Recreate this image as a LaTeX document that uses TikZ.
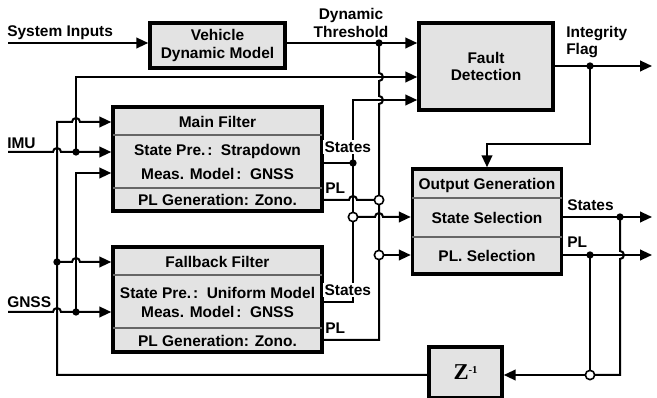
\documentclass[tikz,border=0pt]{standalone}
\usepackage{fontspec}
\setmainfont{Liberation Sans}
\newfontfamily\zfont{Liberation Serif}
\usetikzlibrary{arrows.meta}
\definecolor{boxgray}{gray}{0.89}
\newcommand{\fcolon}{\hspace{0.12em}:\hspace{0.55em}}
\newcommand{\hop}{arc[start angle=180,end angle=0,radius=3pt]}
\newcommand{\vhop}{arc[start angle=90,end angle=-90,radius=3pt]}
\tikzset{
  blockbox/.style={draw,line width=2.6pt,fill=boxgray,inner sep=0pt,align=center},
  sig/.style={line width=1.5pt},
  junc/.style={circle,fill,inner sep=0pt,minimum size=5.5pt},
  hole/.style={circle,draw,line width=1.2pt,fill=white,inner sep=0pt,minimum size=7pt},
  lbl/.style={inner sep=0pt,align=center},
  cutlbl/.style={lbl,fill=white,inner sep=1pt},
  divider/.style={line width=1pt,black!60}
}
\begin{document}
\begin{tikzpicture}[x=0.75pt,y=-0.75pt,font=\fontsize{11.6}{13}\selectfont\bfseries,
  >={Triangle[length=9pt,width=8pt]}]
  \useasboundingbox (0,0) rectangle (657,398);

    % -- Junction points (pixel grid, y pointing down) --
    \coordinate (sysin) at (8,43);
    \coordinate (thr) at (379,43);
    \coordinate (flag) at (590,66);
    \coordinate (flagout) at (652,66);
    \coordinate (fbk) at (487,144);
    \coordinate (imu) at (8,152);
    \coordinate (imudot) at (76,152);
    \coordinate (imuup) at (76,77);
    \coordinate (gnss) at (8,312);
    \coordinate (gnssdot) at (76,312);
    \coordinate (gnssup) at (76,173);
    \coordinate (ztop) at (57,122);
    \coordinate (zdot) at (57,262);
    \coordinate (zturn) at (57,375);
    \coordinate (stop) at (353,100);
    \coordinate (mstates) at (353,163);
    \coordinate (ssel) at (353,217);
    \coordinate (fstates) at (353,302);
    \coordinate (psel1) at (379,200);
    \coordinate (psel2) at (379,255);
    \coordinate (pbot) at (379,340);
    \coordinate (sdot) at (620,217);
    \coordinate (sout) at (652,217);
    \coordinate (pdot) at (590,255);
    \coordinate (pout) at (652,255);
    \coordinate (scorner) at (620,375);
    \coordinate (zsel) at (590,375);

    % -- Blocks --
    \node[blockbox,minimum width=101.25pt,minimum height=33.75pt] (veh) at (217.5,45.5) {Vehicle\\Dynamic Model};
    \node[blockbox,minimum width=100.5pt,minimum height=65.25pt] (fault) at (486,66.5) {Fault\\Detection};
    \node[blockbox,minimum width=156.75pt,minimum height=78pt] (main) at (217.5,159) {};
    \node[blockbox,minimum width=156.75pt,minimum height=78.75pt] (fall) at (217.5,299.5) {};
    \node[blockbox,minimum width=111.75pt,minimum height=78.75pt] (outg) at (487,221.5) {};
    \node[blockbox,minimum width=54.75pt,minimum height=38.25pt] (zbox) at (465.5,372.5)
      {\zfont\bfseries\fontsize{17}{17}\selectfont Z\raisebox{5pt}{\fontsize{8}{8}\selectfont -1}};

    % -- Rows inside the filters and the output block --
    \draw[divider] (113,135) -- (322,135);
    \draw[divider] (113,188) -- (322,188);
    \draw[divider] (113,275) -- (322,275);
    \draw[divider] (113,328) -- (322,328);
    \draw[divider] (412,198) -- (562,198);
    \draw[divider] (412,237) -- (562,237);

    \node[lbl] (mainT) at (217.5,122) {Main Filter};
    \node[lbl] (mainS) at (217.5,152) {State Pre.\fcolon Strapdown};
    \node[lbl] (mainM) at (217.5,174) {Meas. Model\fcolon GNSS};
    \node[lbl] (mainP) at (217.5,200) {PL Generation: Zono.};

    \node[lbl] (fallT) at (217.5,262) {Fallback Filter};
    \node[lbl] (fallS) at (217.5,293) {State Pre.\fcolon Uniform Model};
    \node[lbl] (fallM) at (217.5,312) {Meas. Model\fcolon GNSS};
    \node[lbl] (fallP) at (217.5,341) {PL Generation: Zono.};

    \node[lbl] (outgT) at (487,186) {Output Generation};
    \node[lbl] (outgS) at (487,218) {State Selection};
    \node[lbl] (outgP) at (487,256) {PL. Selection};

    % -- Inputs --
    \draw[sig,->] (sysin) -- (veh.west |- sysin);
    \draw[sig,->] (veh.east |- thr) -- (fault.west |- thr);
    \draw[sig,->] (imu) -- (53,152) \hop -- (main.west |- imu);
    \draw[sig,->] (imudot) -- (imuup) -- (fault.west |- imuup);
    \draw[sig,->] (gnss) -- (53,312) \hop -- (fall.west |- gnss);
    \draw[sig,->] (gnssdot) -- (gnssup) -- (main.west |- gnssup);

    % -- Delayed feedback into both filters --
    \draw[sig,->] (zbox.west |- zturn) -- (zturn) -- (ztop) -- (72,122) \hop -- (main.west |- ztop);
    \draw[sig,->] (zdot) -- (72,262) \hop -- (fall.west |- zdot);

    % -- Threshold line down to the PL switch --
    \draw[sig] (thr) -- (379,73) \vhop -- (379,96) \vhop -- (pbot) -- (fall.east |- pbot);

    % -- Filter states --
    \draw[sig] (main.east |- mstates) -- (mstates);
    \draw[sig,->] (fall.east |- fstates) -- (fstates) -- (stop) -- (fault.west |- stop);
    \draw[sig,->] (ssel) -- (375,217) \hop -- (outg.west |- ssel);

    % -- Filter PL --
    \draw[sig] (main.east |- psel1) -- (349,200) \hop -- (psel1);
    \draw[sig,->] (psel2) -- (outg.west |- psel2);

    % -- Integrity flag --
    \draw[sig,->] (fault.east |- flag) -- (flagout);
    \draw[sig,->] (flag) -- (flag |- fbk) -- (fbk) -- (outg.north);

    % -- Outputs and the loop back through Z^-1 --
    \draw[sig,->] (outg.east |- sout) -- (sout);
    \draw[sig,->] (outg.east |- pout) -- (pout);
    \draw[sig] (sdot) -- (620,251) \vhop -- (scorner) -- (zsel);
    \draw[sig] (pdot) -- (zsel);
    \draw[sig,->] (zsel) -- (zbox.east |- zsel);

    % -- Junction dots and switches --
    \foreach \p in {thr,flag,imudot,gnssdot,zdot,mstates,sdot,pdot}
      \node[junc] (d-\p) at (\p) {};
    \foreach \p in {ssel,psel1,psel2,zsel}
      \node[hole] (h-\p) at (\p) {};

    % -- Signal labels --
    \node[lbl,anchor=west] (sysinlbl) at (7,33) {System Inputs};
    \node[lbl] (thrlbl) at (351,23) {Dynamic\\Threshold};
    \node[lbl,anchor=west,align=left] (flaglbl) at (566,42) {Integrity\\Flag};
    \node[lbl,anchor=west] (imulbl) at (7,143) {IMU};
    \node[lbl,anchor=west] (gnsslbl) at (7,302) {GNSS};
    \node[cutlbl,anchor=west] (mslbl) at (323,147) {States};
    \node[lbl,anchor=west] (mplbl) at (325,188) {PL};
    \node[cutlbl,anchor=west] (fslbl) at (323,290) {States};
    \node[lbl,anchor=west] (fplbl) at (325,328) {PL};
    \node[lbl,anchor=west] (oslbl) at (567,205) {States};
    \node[lbl,anchor=west] (oplbl) at (567,242) {PL};

\end{tikzpicture}
\end{document}
